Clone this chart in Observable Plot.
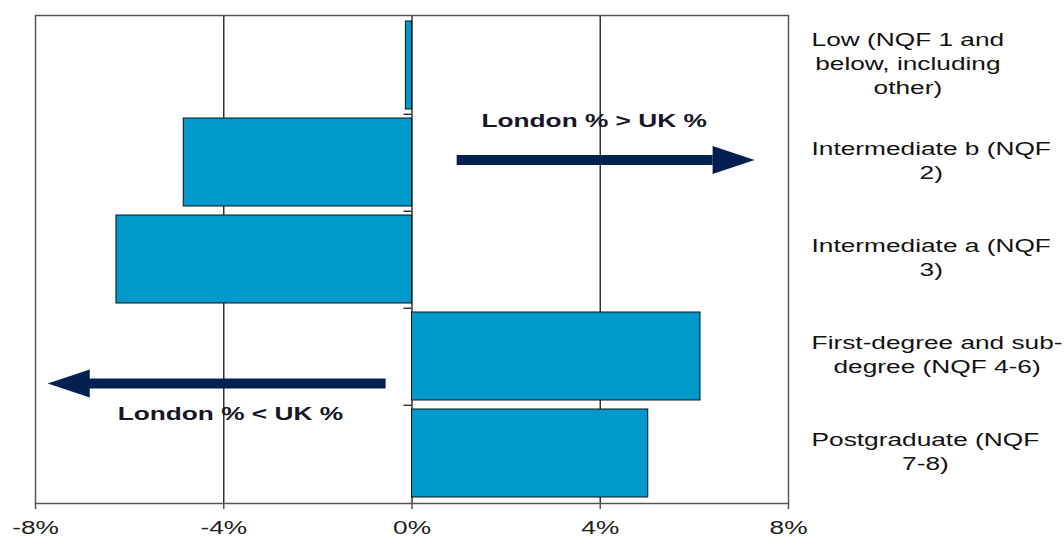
<!DOCTYPE html>
<html><head><meta charset="utf-8">
<script src="https://cdn.jsdelivr.net/npm/d3@7"></script>
<script src="https://cdn.jsdelivr.net/npm/@observablehq/plot@0.6"></script>
<style>body{margin:0;background:#fff;} svg{display:block}</style>
</head><body><div id="chart"></div>
<script>
// ---- data ----
const categories = [
  "Low (NQF 1 and\nbelow, including\nother)",
  "Intermediate b (NQF\n2)",
  "Intermediate a (NQF\n3)",
  "First-degree and sub-\ndegree (NQF 4-6)",
  "Postgraduate (NQF\n7-8)"
];
const values = [-0.13, -4.85, -6.28, 6.13, 5.02];
const xTicks = [-8, -4, 0, 4, 8];
const gridValues = [-4, 0, 4];

const annotationText = ["London % > UK %", "London % < UK %"];
const annotationX = [3.87, -3.86];
const annotationCategory = [categories[1], categories[4]];
const annotationDy = [-41, -39];

const arrowFrom = [0.96, -0.55];
const arrowHeadBase = [6.4, -6.9];
const arrowTip = [7.28, -7.74];
const arrowCategory = [categories[1], categories[3]];
const arrowDy = [-2.5, 27];

// ---- build ----
const data = categories.map((c, i) => ({category: c, value: values[i]}));
const FONT = "Liberation Sans, Arial, sans-serif";
const FS = 18.5;
const SX = 1.42;
const navy = "#00204F";

const W = 1064, H = 536;
const mL = 35, mR = 276, mT = 15, mB = 33;
const step = (H - mT - mB) / 5;

const headRight = {draw(ctx) { ctx.moveTo(0, 0); ctx.lineTo(-42, -14); ctx.lineTo(-42, 14); ctx.closePath(); }};
const headLeft = {draw(ctx) { ctx.moveTo(0, 0); ctx.lineTo(42, -14); ctx.lineTo(42, 14); ctx.closePath(); }};

// measure label widths for Excel-like block alignment
const cv = document.createElement("canvas").getContext("2d");
cv.font = `${FS}px "Liberation Sans"`;
const blockWidth = c => d3.max(c.split("\n"), l => cv.measureText(l).width) * SX;

const marks = [
  Plot.ruleX(gridValues, {stroke: "#333", strokeWidth: 1.5}),
  Plot.barX(data, {x: "value", y: "category", fill: "#0099CC", stroke: "#111", strokeWidth: 1}),
  Plot.ruleY(categories.slice(0, 4), {x1: -0.17, x2: 0, dy: step / 2, stroke: "#333", strokeWidth: 1.5}),
  Plot.frame({stroke: "#555", strokeWidth: 1.5}),
  Plot.axisX({ticks: xTicks, tickFormat: d => d + "%", tickSize: 6, tickPadding: 11, fontSize: FS, fill: "#222", stroke: "#555", strokeWidth: 1.5}),
];

categories.forEach(c => {
  marks.push(Plot.text([c], {
    y: d => d, frameAnchor: "right", text: d => d, textAnchor: "middle",
    dx: 23 + blockWidth(c) / 2, dy: -3, lineHeight: 1.3, fontSize: FS, fill: "#111"
  }));
});

arrowFrom.forEach((x0, i) => {
  const a = [{x1: x0, x2: arrowHeadBase[i], tip: arrowTip[i], y: arrowCategory[i]}];
  marks.push(Plot.ruleY(a, {x1: "x1", x2: "x2", y: "y", dy: arrowDy[i], stroke: navy, strokeWidth: 10}));
  marks.push(Plot.dot(a, {x: "tip", y: "y", dy: arrowDy[i], symbol: x0 > 0 ? headRight : headLeft, fill: navy, stroke: "none"}));
});

annotationText.forEach((t, i) => {
  marks.push(Plot.text([t], {x: [annotationX[i]], y: [annotationCategory[i]], text: d => d, dy: annotationDy[i],
    fontSize: FS, fontWeight: "bold", fill: "#161628"}));
});

const chart = Plot.plot({
  width: W, height: H,
  marginLeft: mL, marginRight: mR, marginTop: mT, marginBottom: mB,
  style: {fontFamily: FONT, background: "#fff", overflow: "visible"},
  x: {domain: [-8, 8], axis: null},
  y: {domain: categories, axis: null, paddingInner: 0.09, paddingOuter: 0.045},
  marks
});
chart.querySelectorAll("text").forEach(t => {
  t.setAttribute("transform", (t.getAttribute("transform") || "") + ` scale(${SX},1)`);
});
document.getElementById("chart").appendChild(chart);
</script>
</body></html>
